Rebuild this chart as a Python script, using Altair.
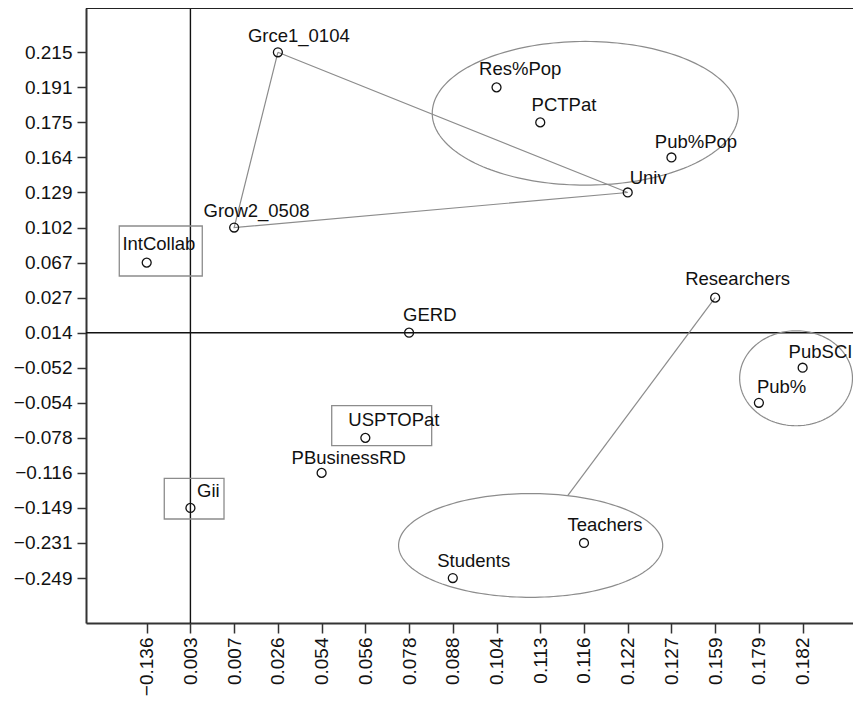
import json
import numpy as np
import pandas as pd
import altair as alt

# ---------------- data ----------------
x_tick_labels = ["−0.136", "0.003", "0.007", "0.026", "0.054", "0.056", "0.078", "0.088",
                 "0.104", "0.113", "0.116", "0.122", "0.127", "0.159", "0.179", "0.182"]
y_tick_labels = ["0.215", "0.191", "0.175", "0.164", "0.129", "0.102", "0.067", "0.027",
                 "0.014", "−0.052", "−0.054", "−0.078", "−0.116", "−0.149", "−0.231", "−0.249"]

names = ["Grce1_0104", "Res%Pop", "PCTPat", "Pub%Pop", "Univ", "Grow2_0508", "IntCollab",
         "Researchers", "GERD", "PubSCI", "Pub%", "USPTOPat", "PBusinessRD", "Gii",
         "Teachers", "Students"]
x_vals = ["0.026", "0.104", "0.113", "0.127", "0.122", "0.007", "−0.136", "0.159", "0.078",
          "0.182", "0.179", "0.056", "0.054", "0.003", "0.116", "0.088"]
y_vals = ["0.215", "0.191", "0.175", "0.164", "0.129", "0.102", "0.067", "0.027", "0.014",
          "−0.052", "−0.054", "−0.078", "−0.116", "−0.149", "−0.231", "−0.249"]

# reference axes crossing
cross_x = "0.003"
cross_y = "0.014"

# connections
triangle_path = ["Grce1_0104", "Univ", "Grow2_0508", "Grce1_0104"]

# ---------------- styling / layout ----------------
W, H = 767, 615
X_DOM = [-1.388, 16.152]
Y_DOM = [-1.283, 16.264]
PX_X = W / (X_DOM[1] - X_DOM[0])
PX_Y = H / (Y_DOM[1] - Y_DOM[0])

# label offsets in pixels (text start, baseline) relative to the point
label_dx = [-30, -17.4, -8.7, -16.6, 2, -30.6, -24.3, -30, -6, -14, -2, -17, -30, 6.7, -16.6, -15.6]
label_dy = [-10.6, -12, -11, -9, -8, -11, -12.7, -13, -12, -10, -10, -11.7, -9, -11, -12, -11]

# annotation ellipses (center x, center y, radius x, radius y) in axis units
ellipses = {
    "top": (10.03, 13.26, 3.50, 2.05),
    "bottom": (8.78, 0.93, 3.02, 1.48),
    "right": (14.85, 5.70, 1.29, 1.355),
}
# annotation boxes (x1, x2, y1, y2) in axis units
boxes = [(-0.627, 1.271, 8.618, 10.044),
         (0.402, 1.768, 1.685, 2.846),
         (4.231, 6.517, 3.776, 4.917)]

NTK = len(y_tick_labels) - 1


def xi(lbl):
    return x_tick_labels.index(lbl)


def yi(lbl):
    return NTK - y_tick_labels.index(lbl)


pts = pd.DataFrame({
    "name": names,
    "x": [xi(v) for v in x_vals],
    "y": [yi(v) for v in y_vals],
})
pts["tx"] = pts["x"] + np.array(label_dx) / PX_X
pts["ty"] = pts["y"] - np.array(label_dy) / PX_Y

pos = {r.name: (r.x, r.y) for r in pts.itertuples()}

# triangle
tri = pd.DataFrame({"x": [pos[n][0] for n in triangle_path],
                    "y": [pos[n][1] for n in triangle_path],
                    "k": list(range(len(triangle_path))),
                    "g": "tri"})

# researchers -> bottom ellipse boundary
cx, cy, rx, ry = ellipses["bottom"]
px, py = pos["Researchers"]
dxv, dyv = cx - px, cy - py
s = 1.0 / np.sqrt((dxv / rx) ** 2 + (dyv / ry) ** 2)
ex, ey = cx - dxv * s, cy - dyv * s
link = pd.DataFrame({"x": [px, ex], "y": [py, ey], "k": [0, 1], "g": "link"})

lines_df = pd.concat([tri, link], ignore_index=True)

# ellipse outlines
t = np.linspace(0, 2 * np.pi, 181)
ell_rows = []
for key, (ecx, ecy, erx, ery) in ellipses.items():
    for k, a in enumerate(t):
        ell_rows.append({"g": key, "k": k, "x": ecx + erx * np.cos(a), "y": ecy + ery * np.sin(a)})
ell_df = pd.DataFrame(ell_rows)

box_df = pd.DataFrame(boxes, columns=["x1", "x2", "y1", "y2"])

FONT_TICK = "Liberation Sans"
FONT_LBL = "Liberation Sans"

x_expr = json.dumps(x_tick_labels, ensure_ascii=False) + "[datum.value]"
y_expr = json.dumps(y_tick_labels, ensure_ascii=False) + "[" + str(NTK) + " - datum.value]"

xscale = alt.Scale(domain=X_DOM, nice=False, zero=False)
yscale = alt.Scale(domain=Y_DOM, nice=False, zero=False)

xaxis = alt.Axis(values=list(range(len(x_tick_labels))), labelExpr=x_expr, labelAngle=270,
                 labelFont=FONT_TICK, labelFontSize=19, labelColor="#111111",
                 tickSize=10, tickWidth=1.5, tickColor="#333333",
                 domainColor="#333333", domainWidth=2, labelPadding=4,
                 grid=False, title=None, labelOverlap=False)
yaxis = alt.Axis(values=list(range(len(y_tick_labels))), labelExpr=y_expr,
                 labelFont=FONT_TICK, labelFontSize=19, labelColor="#111111",
                 tickSize=9, tickWidth=1.5, tickColor="#333333",
                 domainColor="#333333", domainWidth=2, labelPadding=5,
                 grid=False, title=None, labelOverlap=False)

base_x = alt.X("x:Q", scale=xscale, axis=xaxis)
base_y = alt.Y("y:Q", scale=yscale, axis=yaxis)

# reference lines
vline = alt.Chart(pd.DataFrame({"x": [xi(cross_x)]})).mark_rule(
    color="#111111", strokeWidth=1.4).encode(x=alt.X("x:Q", scale=xscale, axis=xaxis))
hline = alt.Chart(pd.DataFrame({"y": [yi(cross_y)]})).mark_rule(
    color="#111111", strokeWidth=1.4).encode(y=alt.Y("y:Q", scale=yscale, axis=yaxis))
topline = alt.Chart(pd.DataFrame({"a": [0]})).mark_rule(
    color="#222222", strokeWidth=2).encode(x=alt.value(0), x2=alt.value(W), y=alt.value(0))

ell = alt.Chart(ell_df).mark_line(color="#8c8c8c", strokeWidth=1.2).encode(
    x=alt.X("x:Q", scale=xscale, axis=xaxis), y=alt.Y("y:Q", scale=yscale, axis=yaxis),
    detail="g:N", order="k:Q")

conn = alt.Chart(lines_df).mark_line(color="#8c8c8c", strokeWidth=1.2).encode(
    x=alt.X("x:Q", scale=xscale, axis=xaxis), y=alt.Y("y:Q", scale=yscale, axis=yaxis),
    detail="g:N", order="k:Q")

rects = alt.Chart(box_df).mark_rect(fill="white", fillOpacity=0, stroke="#8c8c8c",
                                    strokeWidth=1.3).encode(
    x=alt.X("x1:Q", scale=xscale, axis=xaxis), x2="x2:Q",
    y=alt.Y("y1:Q", scale=yscale, axis=yaxis), y2="y2:Q")

points = alt.Chart(pts).mark_point(shape="circle", filled=False, size=80, color="#111111",
                                   strokeWidth=1.3, opacity=1).encode(x=base_x, y=base_y)

labels = alt.Chart(pts).mark_text(align="left", baseline="alphabetic", font=FONT_LBL,
                                  fontSize=18.5, color="#111111").encode(
    x=alt.X("tx:Q", scale=xscale, axis=xaxis), y=alt.Y("ty:Q", scale=yscale, axis=yaxis),
    text="name:N")

chart = alt.layer(vline, hline, ell, conn, rects, topline, points, labels).properties(
    width=W, height=H,
    autosize=alt.AutoSizeParams(type="none"),
    padding={"left": 78, "top": 0, "right": 0, "bottom": 73},
).configure_view(stroke=None).configure(background="white")

chart.save("out.html", embed_options={"renderer": "svg", "actions": False})
